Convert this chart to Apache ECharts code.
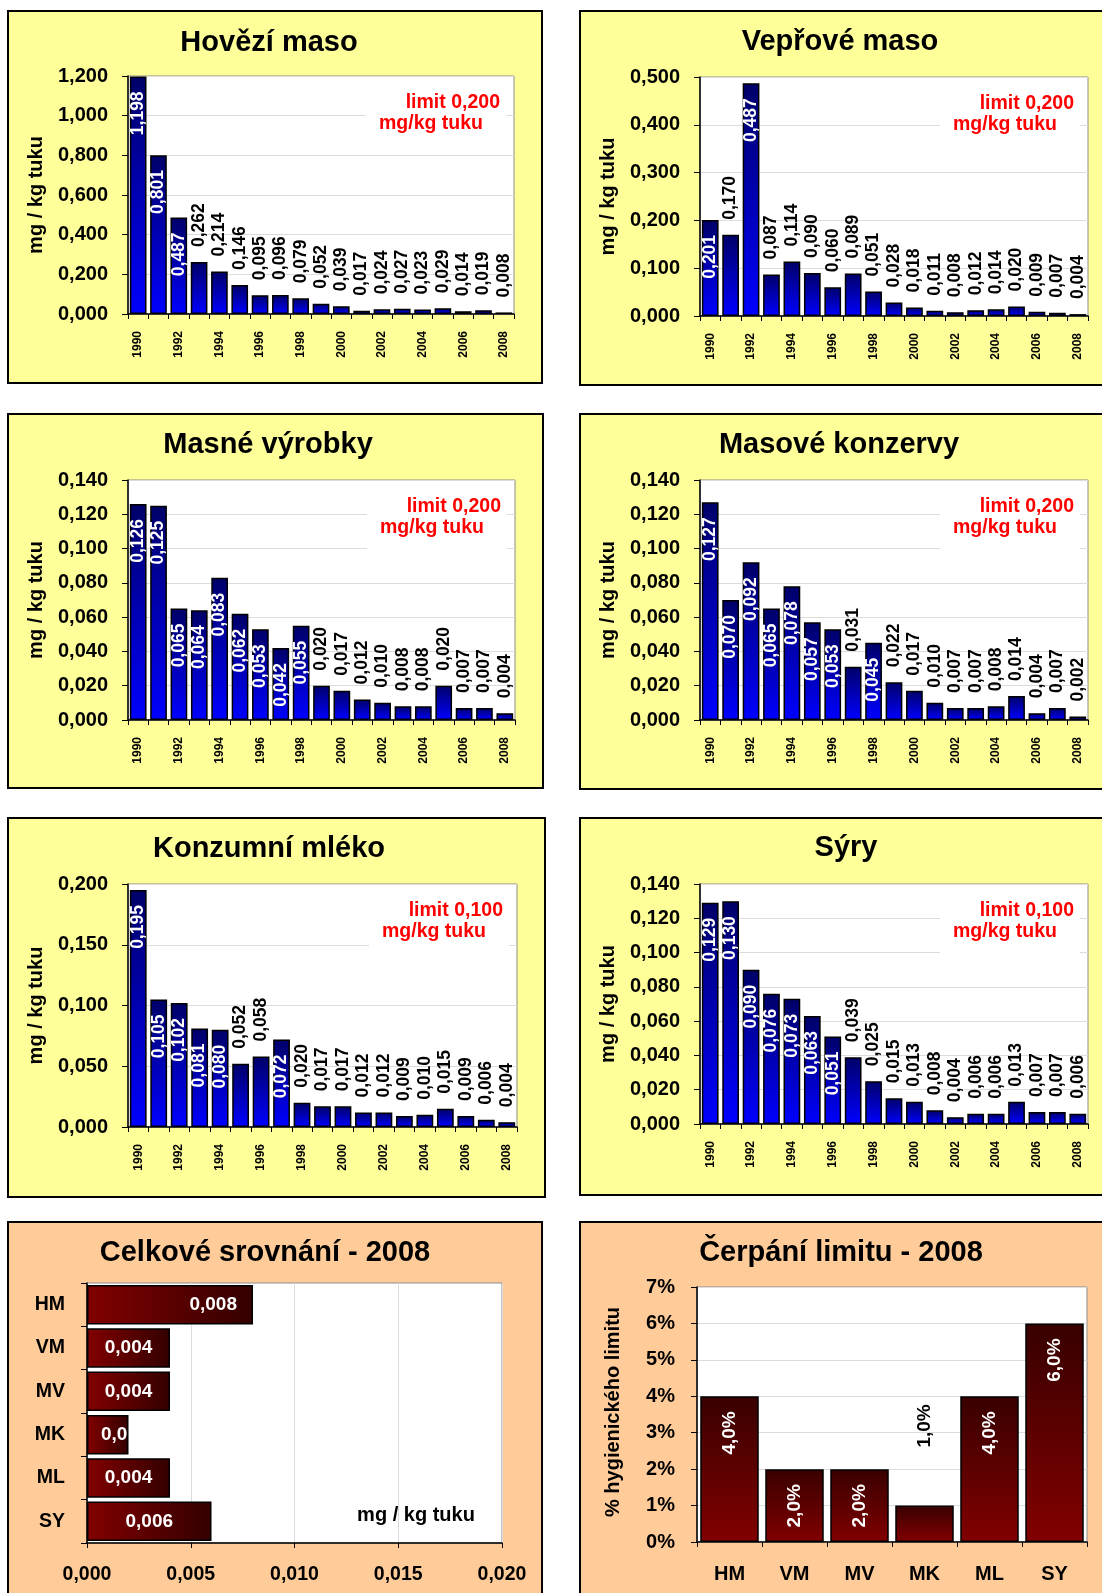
<!DOCTYPE html>
<html>
<head>
<meta charset="utf-8">
<script src="https://cdn.jsdelivr.net/npm/echarts@6/dist/echarts.min.js"></script>
<style>
  html, body { margin: 0; padding: 0; background: #fff; }
  #main { width: 1102px; height: 1593px; }
</style>
</head>
<body>
<div id="main"></div>
<script>
// data
const years = ['1990', '1991', '1992', '1993', '1994', '1995', '1996', '1997', '1998', '1999',
               '2000', '2001', '2002', '2003', '2004', '2005', '2006', '2007', '2008'];

const hoveziMaso    = [1.198, 0.801, 0.487, 0.262, 0.214, 0.146, 0.095, 0.096, 0.079, 0.052, 0.039, 0.017, 0.024, 0.027, 0.023, 0.029, 0.014, 0.019, 0.008];
const veproveMaso   = [0.201, 0.170, 0.487, 0.087, 0.114, 0.090, 0.060, 0.089, 0.051, 0.028, 0.018, 0.011, 0.008, 0.012, 0.014, 0.020, 0.009, 0.007, 0.004];
const masneVyrobky  = [0.126, 0.125, 0.065, 0.064, 0.083, 0.062, 0.053, 0.042, 0.055, 0.020, 0.017, 0.012, 0.010, 0.008, 0.008, 0.020, 0.007, 0.007, 0.004];
const masoveKonzervy = [0.127, 0.070, 0.092, 0.065, 0.078, 0.057, 0.053, 0.031, 0.045, 0.022, 0.017, 0.010, 0.007, 0.007, 0.008, 0.014, 0.004, 0.007, 0.002];
const konzumniMleko = [0.195, 0.105, 0.102, 0.081, 0.080, 0.052, 0.058, 0.072, 0.020, 0.017, 0.017, 0.012, 0.012, 0.009, 0.010, 0.015, 0.009, 0.006, 0.004];
const syry          = [0.129, 0.130, 0.090, 0.076, 0.073, 0.063, 0.051, 0.039, 0.025, 0.015, 0.013, 0.008, 0.004, 0.006, 0.006, 0.013, 0.007, 0.007, 0.006];

const codes = ['HM', 'VM', 'MV', 'MK', 'ML', 'SY'];
const srovnani2008 = [0.008, 0.004, 0.004, 0.002, 0.004, 0.006];
const cerpaniLimitu = [4, 2, 2, 1, 4, 6]; // % of hygienic limit

const FONT = '"Liberation Sans", Arial, sans-serif';
const fmt3 = v => (+v).toFixed(3).replace('.', ',');
const fmtPct = v => (+v).toFixed(1).replace('.', ',') + '%';

const chart = echarts.init(document.getElementById('main'));

const yellow = '#ffff99';
const peach = '#ffcc99';

// panel layout: box = frame, grid = plot area [left, top, width, height]
const panels = [
  { title: 'Hovězí maso', data: hoveziMaso, max: 1.2, step: 0.2, inside: 0.3, limit: 'limit 0,200',
    box: [8, 11, 534, 372], grid: [128, 76, 386, 238], titleAt: [269, 43] },
  { title: 'Vepřové maso', data: veproveMaso, max: 0.5, step: 0.1, inside: 0.18, limit: 'limit 0,200',
    box: [580, 11, 540, 374], grid: [700, 77, 388, 239], titleAt: [840, 42] },
  { title: 'Masné výrobky', data: masneVyrobky, max: 0.14, step: 0.02, inside: 0.04, limit: 'limit 0,200',
    box: [8, 414, 535, 374], grid: [128, 480, 387, 240], titleAt: [268, 445] },
  { title: 'Masové konzervy', data: masoveKonzervy, max: 0.14, step: 0.02, inside: 0.04, limit: 'limit 0,200',
    box: [580, 414, 540, 375], grid: [700, 480, 388, 240], titleAt: [839, 445] },
  { title: 'Konzumní mléko', data: konzumniMleko, max: 0.2, step: 0.05, inside: 0.06, limit: 'limit 0,100',
    box: [8, 818, 537, 379], grid: [128, 884, 389, 243], titleAt: [269, 849] },
  { title: 'Sýry', data: syry, max: 0.14, step: 0.02, inside: 0.045, limit: 'limit 0,100',
    box: [580, 818, 540, 377], grid: [700, 884, 388, 240], titleAt: [846, 848] }
];

const grids = [], xAxes = [], yAxes = [], series = [], graphics = [];

function frame(box, fill) {
  graphics.push({
    type: 'rect', z: -10,
    shape: { x: box[0], y: box[1], width: box[2], height: box[3] },
    style: { fill: fill, stroke: '#000', lineWidth: 2 }
  });
}
function text(x, y, str, size, color, rot, align) {
  graphics.push({
    type: 'text', z: 100, x: x, y: y, rotation: rot || 0,
    style: { text: str, fill: color || '#000', fontSize: size, fontWeight: 'bold', fontFamily: FONT,
             align: align || 'center', verticalAlign: 'middle' }
  });
}
function gridOf(g) {
  return { left: g[0], top: g[1], width: g[2], height: g[3], show: true,
           backgroundColor: '#fff', borderColor: '#8c8c8c', borderWidth: 1 };
}
const axisText = { color: '#000', fontWeight: 'bold', fontFamily: FONT };
const blackLine = { show: true, lineStyle: { color: '#000', width: 1.5 } };
const split = { show: true, lineStyle: { color: '#dcdcdc', width: 1 } };

const blue = new echarts.graphic.LinearGradient(0, 0, 0, 1, [
  { offset: 0, color: '#000068' }, { offset: 1, color: '#0000ff' }]);

panels.forEach((p, i) => {
  const g = p.grid;
  frame(p.box, yellow);
  text(p.titleAt[0], p.titleAt[1], p.title, 29);
  text(p.box[0] + 28, g[1] + g[3] / 2, 'mg / kg tuku', 20, '#000', Math.PI / 2);

  // limit note with its white box
  const right = g[0] + g[2];
  graphics.push({ type: 'rect', z: 50, shape: { x: right - 148, y: g[1] + 12, width: 140, height: 60 },
                  style: { fill: '#fff' } });
  text(right - 14, g[1] + 26.5, p.limit, 19.5, '#ff0000', 0, 'right');
  text(right - 31, g[1] + 48, 'mg/kg tuku', 19.5, '#ff0000', 0, 'right');

  grids.push(gridOf(g));
  xAxes.push({
    type: 'category', gridIndex: i, data: years,
    axisLine: blackLine,
    axisTick: { show: true, interval: 0, length: 5, lineStyle: { color: '#000' } },
    axisLabel: Object.assign({ interval: 1, rotate: 90, margin: 17, fontSize: 12 }, axisText)
  });
  yAxes.push({
    type: 'value', gridIndex: i, min: 0, max: p.max, interval: p.step,
    axisLine: blackLine,
    axisTick: { show: true, length: 6, lineStyle: { color: '#000' } },
    axisLabel: Object.assign({ formatter: fmt3, margin: 20, fontSize: 20 }, axisText),
    splitLine: split
  });

  const inLabel = { position: 'insideTop', distance: 15, rotate: 90, align: 'right', verticalAlign: 'middle', color: '#fff' };
  const outLabel = { position: 'top', distance: 15, rotate: 90, align: 'left', verticalAlign: 'middle', color: '#000' };
  series.push({
    type: 'bar', xAxisIndex: i, yAxisIndex: i, barCategoryGap: '18%',
    itemStyle: { color: blue, borderColor: '#000', borderWidth: 1.5 },
    label: { show: true, formatter: d => fmt3(d.value), fontSize: 17.5, fontWeight: 'bold', fontFamily: FONT },
    data: p.data.map(v => ({ value: v, label: v >= p.inside ? inLabel : outLabel }))
  });
});

// Celkové srovnání - 2008 (horizontal)
frame([8, 1222, 534, 400], peach);
text(265, 1252.5, 'Celkové srovnání - 2008', 29);
grids.push(gridOf([87, 1283, 415, 260]));
xAxes.push({
  type: 'value', gridIndex: 6, min: 0, max: 0.02, interval: 0.005,
  axisLine: blackLine,
  axisTick: { show: true, length: 5, lineStyle: { color: '#000' } },
  axisLabel: Object.assign({ formatter: fmt3, margin: 22, fontSize: 19.5 }, axisText),
  splitLine: split
});
yAxes.push({
  type: 'category', gridIndex: 6, data: codes, inverse: true,
  axisLine: blackLine,
  axisTick: { show: true, interval: 0, length: 6, lineStyle: { color: '#000' } },
  axisLabel: Object.assign({ margin: 22, fontSize: 19.5 }, axisText)
});
const srovnaniLabels = {
  HM: { position: 'insideRight', distance: 16 },
  MK: { position: 'insideLeft', distance: 14, width: 31, overflow: 'truncate', ellipsis: '' }
};
series.push({
  type: 'bar', xAxisIndex: 6, yAxisIndex: 6, barCategoryGap: '9%',
  itemStyle: {
    color: new echarts.graphic.LinearGradient(0, 0, 1, 0, [
      { offset: 0, color: '#820000' }, { offset: 1, color: '#330000' }]),
    borderColor: '#000', borderWidth: 1.5
  },
  label: { show: true, position: 'inside', formatter: d => fmt3(d.value), color: '#fff',
           fontSize: 19, fontWeight: 'bold', fontFamily: FONT },
  data: srovnani2008.map((v, i) => ({ value: v, label: srovnaniLabels[codes[i]] || {} }))
});
text(416, 1515, 'mg / kg tuku', 20);

// Čerpání limitu - 2008
frame([580, 1222, 540, 400], peach);
text(841, 1253, 'Čerpání limitu - 2008', 29);
text(613, 1412, '% hygienického limitu', 20, '#000', Math.PI / 2);
grids.push(gridOf([697, 1287, 390, 255]));
xAxes.push({
  type: 'category', gridIndex: 7, data: codes,
  axisLine: blackLine,
  axisTick: { show: true, interval: 0, length: 5, lineStyle: { color: '#000' } },
  axisLabel: Object.assign({ margin: 22, fontSize: 20 }, axisText)
});
yAxes.push({
  type: 'value', gridIndex: 7, min: 0, max: 7, interval: 1,
  axisLine: blackLine,
  axisTick: { show: true, length: 6, lineStyle: { color: '#000' } },
  axisLabel: Object.assign({ formatter: '{value}%', margin: 22, fontSize: 20 }, axisText),
  splitLine: split
});
series.push({
  type: 'bar', xAxisIndex: 7, yAxisIndex: 7, barCategoryGap: '10%',
  itemStyle: {
    color: new echarts.graphic.LinearGradient(0, 0, 0, 1, [
      { offset: 0, color: '#380000' }, { offset: 1, color: '#820000' }]),
    borderColor: '#000', borderWidth: 1.5
  },
  label: { show: true, formatter: d => fmtPct(d.value), rotate: 90, verticalAlign: 'middle',
           fontSize: 19, fontWeight: 'bold', fontFamily: FONT },
  data: cerpaniLimitu.map(v => ({
    value: v,
    label: v >= 2
      ? { position: 'insideTop', distance: 15, align: 'right', color: '#fff' }
      : { position: 'top', distance: 58, align: 'left', color: '#000' }
  }))
});

chart.setOption({
  animation: false,
  backgroundColor: '#fff',
  grid: grids,
  xAxis: xAxes,
  yAxis: yAxes,
  series: series,
  graphic: graphics
});
</script>
</body>
</html>
